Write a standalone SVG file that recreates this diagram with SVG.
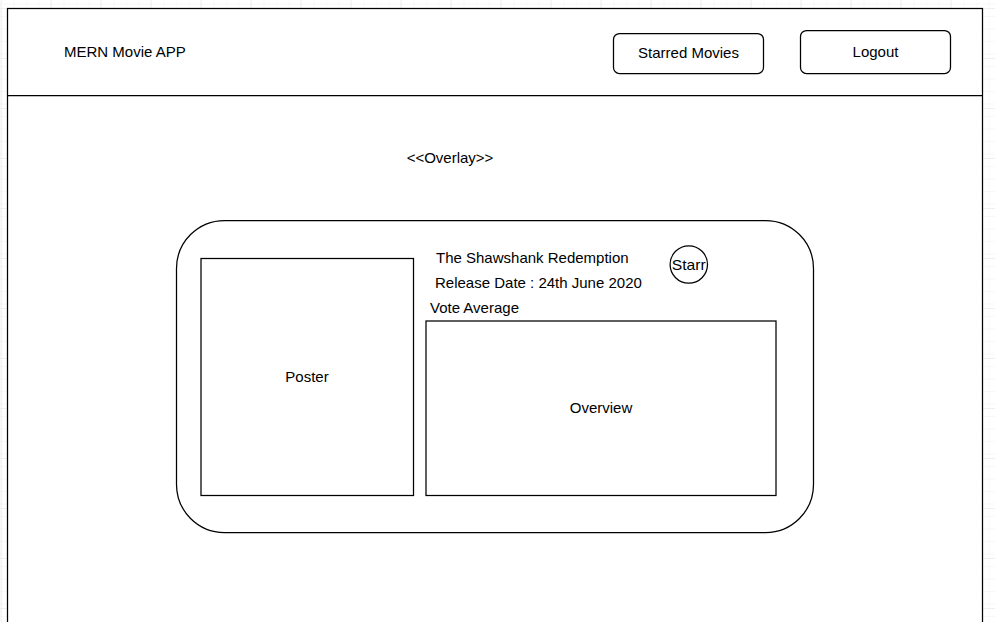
<svg xmlns="http://www.w3.org/2000/svg" width="995" height="622" viewBox="0 0 995 622">
  <defs>
    <pattern id="gridMinor" x="0.5" y="8" width="12.5" height="12.5" patternUnits="userSpaceOnUse">
      <path d="M 12.5 0 L 0 0 0 12.5" fill="none" stroke="#f0f0f0" stroke-width="1"/>
    </pattern>
    <pattern id="gridMajor" x="0.5" y="8" width="50" height="50" patternUnits="userSpaceOnUse">
      <rect width="50" height="50" fill="url(#gridMinor)"/>
      <path d="M 50 0 L 0 0 0 50" fill="none" stroke="#e0e0e0" stroke-width="1"/>
    </pattern>
    <style>
      .shape { fill: #ffffff; stroke: #000000; stroke-width: 1.25; }
      .lbl { font-family: "Liberation Sans", Arial, Helvetica, sans-serif; font-size: 15px; fill: #000000; }
      .mid { text-anchor: middle; dominant-baseline: central; }
    </style>
  </defs>
  <rect width="995" height="622" fill="#ffffff"/>
  <rect width="995" height="622" fill="url(#gridMajor)"/>

  <g id="frame">
    <rect class="shape" x="7.5" y="8.5" width="975" height="700"/>
    <line x1="7.5" y1="95.5" x2="982.5" y2="95.5" stroke="#000" stroke-width="1.25"/>
  </g>

  <g id="app-title">
    <text class="lbl" x="64" y="56.5">MERN Movie APP</text>
  </g>

  <g id="btn-starred">
    <rect class="shape" x="613.5" y="33.5" width="150" height="40" rx="6" ry="6"/>
    <text class="lbl mid" x="688.5" y="52.5">Starred Movies</text>
  </g>

  <g id="btn-logout">
    <rect class="shape" x="800.5" y="30.5" width="150" height="43" rx="6" ry="6"/>
    <text class="lbl mid" x="875.5" y="51.5">Logout</text>
  </g>

  <g id="overlay-label">
    <text class="lbl mid" x="450" y="157.5">&lt;&lt;Overlay&gt;&gt;</text>
  </g>

  <g id="card">
    <rect class="shape" x="176.5" y="220.5" width="637" height="312" rx="48" ry="48"/>
  </g>

  <g id="poster">
    <rect class="shape" x="201" y="258.5" width="212.5" height="237"/>
    <text class="lbl mid" x="307" y="376.5">Poster</text>
  </g>

  <g id="movie-title">
    <text class="lbl" x="436" y="262.5">The Shawshank Redemption</text>
  </g>

  <g id="release-date">
    <text class="lbl" x="435" y="287.5">Release Date : 24th June 2020</text>
  </g>

  <g id="vote-average">
    <text class="lbl" x="430" y="312.5">Vote Average</text>
  </g>

  <g id="starr">
    <circle class="shape" cx="688.8" cy="264.5" r="18.7"/>
    <text class="lbl mid" x="688.8" y="264.5" textLength="34" lengthAdjust="spacingAndGlyphs">Starr</text>
  </g>

  <g id="overview">
    <rect class="shape" x="426" y="321" width="350" height="174.5"/>
    <text class="lbl mid" x="601" y="407.5">Overview</text>
  </g>

  <g id="connectors"></g>
</svg>
